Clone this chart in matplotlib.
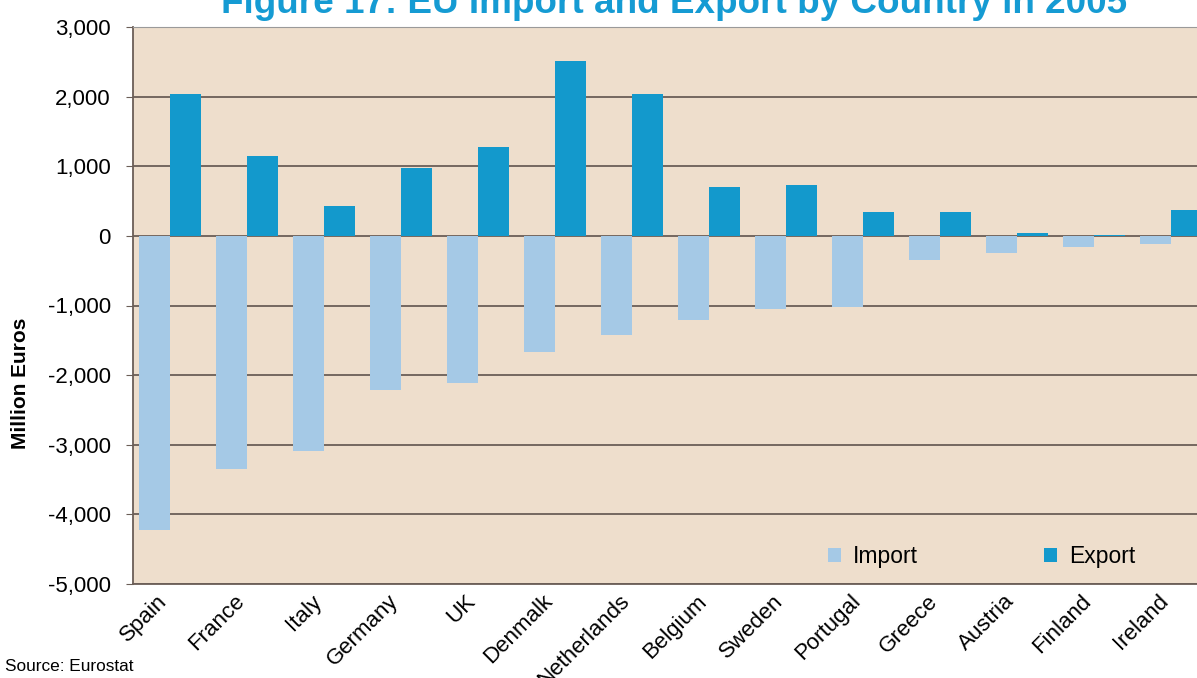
import numpy as np
import matplotlib.pyplot as plt
import matplotlib.transforms as mtransforms

countries = ["Spain", "France", "Italy", "Germany", "UK", "Denmark", "Netherlands",
             "Belgium", "Sweden", "Portugal", "Greece", "Austria", "Finland", "Ireland"]
tick_labels = ["Spain", "France", "Italy", "Germany", "UK", "Denmalk", "Netherlands",
               "Belgium", "Sweden", "Portugal", "Greece", "Austria", "Finland", "Ireland"]
imports = [-4220, -3350, -3090, -2210, -2110, -1670, -1420,
           -1210, -1050, -1020, -346, -245, -159, -115]
exports = [2040, 1150, 430, 980, 1280, 2510, 2040,
           705, 734, 345, 345, 43, 14, 375]

plt.rcParams['font.family'] = ['Liberation Sans', 'DejaVu Sans']

W, H = 1197, 678
fig = plt.figure(figsize=(W / 100, H / 100), dpi=100)
ax = fig.add_axes([133 / W, 1 - 584 / H, (W - 133) / W, (584 - 27) / H])
ax.set_facecolor("#EEDECC")

x = np.arange(len(countries))
w = 0.4
ax.bar(x - w / 2, imports, width=w, color="#A5C9E6", label="Import", zorder=3)
ax.bar(x + w / 2, exports, width=w, color="#1399CC", label="Export", zorder=3)

ax.set_ylim(-5000, 3000)
ax.set_xlim(-0.48, 13.34)
yt = np.arange(-5000, 3001, 1000)
ax.set_yticks(yt)
ax.set_yticklabels([f"{v:,}" for v in yt], fontsize=16)
ax.yaxis.grid(True, color="#6B5E57", linewidth=1.3, zorder=1)
ax.set_axisbelow(True)

ax.set_xticks(x)
ax.set_xticklabels(tick_labels, rotation=45, ha="right", rotation_mode="anchor", fontsize=16)
ax.tick_params(axis="x", length=0, pad=5)
ax.tick_params(axis="y", length=5, color="#6B5E57", pad=11)
shift = mtransforms.ScaledTranslation(-0.13, 0, fig.dpi_scale_trans)
for lab in ax.get_xticklabels():
    lab.set_transform(lab.get_transform() + shift)

ax.spines["right"].set_visible(False)
ax.spines["top"].set_color("#9A9A9A")
for s in ["left", "bottom"]:
    ax.spines[s].set_color("#6B5E57")
    ax.spines[s].set_linewidth(1.3)

fig.text(21 / W, 1 - 383 / H, "Million Euros", rotation=90, ha="center", va="center",
         fontsize=15, fontweight="bold")

ax.legend(loc="center left", bbox_to_anchor=(0.653, 0.050), ncol=2, frameon=False,
          fontsize=16.5, handlelength=0.57, handleheight=0.57, handletextpad=0.52,
          columnspacing=5.5, borderpad=0, borderaxespad=0)

fig.text(674.5 / W, 1 - 13 / H, "Figure 17: EU Import and Export by Country in 2005",
         ha="center", va="baseline", fontsize=26.6, fontweight="bold", color="#159BD3")
fig.text(5 / W, 1 - 671 / H, "Source: Eurostat", ha="left", va="baseline", fontsize=12.4)

fig.savefig("out.png", dpi=100)
